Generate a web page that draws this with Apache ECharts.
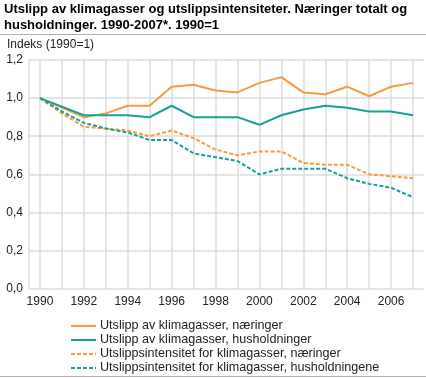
<!DOCTYPE html>
<html>
<head>
<meta charset="utf-8">
<script src="https://cdn.jsdelivr.net/npm/echarts@6/dist/echarts.min.js"></script>
<style>html,body{margin:0;padding:0;background:#fff}#c{width:426px;height:379px}</style>
</head>
<body>
<div id="c"></div>
<script>
var years = [1990,1991,1992,1993,1994,1995,1996,1997,1998,1999,2000,2001,2002,2003,2004,2005,2006,2007];
var naeringerUtslipp = [1.00,0.95,0.90,0.92,0.96,0.96,1.06,1.07,1.04,1.03,1.08,1.11,1.03,1.02,1.06,1.01,1.06,1.08];
var husholdUtslipp   = [1.00,0.955,0.91,0.91,0.91,0.90,0.96,0.90,0.90,0.90,0.86,0.91,0.94,0.96,0.95,0.93,0.93,0.91];
var naeringerIntens  = [1.00,0.92,0.85,0.84,0.83,0.80,0.83,0.79,0.73,0.70,0.72,0.72,0.66,0.65,0.65,0.60,0.59,0.58];
var husholdIntens    = [1.00,0.93,0.87,0.84,0.82,0.78,0.78,0.71,0.69,0.67,0.60,0.63,0.63,0.63,0.58,0.55,0.53,0.48];
var xLabelYears = [1990,1992,1994,1996,1998,2000,2002,2004,2006];
var names = [
  'Utslipp av klimagasser, næringer',
  'Utslipp av klimagasser, husholdninger',
  'Utslippsintensitet for klimagasser, næringer',
  'Utslippsintensitet for klimagasser, husholdningene'
];
var orange = '#f79a40';
var teal = '#19a099';
function pairs(arr){ return years.map(function(y,i){ return [y, arr[i]]; }); }
function mk(name, arr, color, dashed){
  return {
    name: name, type: 'line', data: pairs(arr), symbol: 'none', animation: false,
    lineStyle: { color: color, width: 2, type: dashed ? [4,2] : 'solid' },
    itemStyle: { color: color }
  };
}
var chart = echarts.init(document.getElementById('c'), null, {renderer:'canvas'});
var font = '"Liberation Sans", Arial, sans-serif';
chart.setOption({
  animation: false,
  textStyle: { fontFamily: font },
  title: {
    text: 'Utslipp av klimagasser og utslippsintensiteter. Næringer totalt og\nhusholdninger. 1990-2007*. 1990=1',
    left: 4, top: 1, padding: 0,
    textStyle: { fontFamily: font, fontSize: 13, fontWeight: 'bold', color: '#000', lineHeight: 16 }
  },
  graphic: [
    { type: 'line', shape: { x1: 0, y1: 34.5, x2: 426, y2: 34.5 }, style: { stroke: '#b0b0b0', lineWidth: 1 } },
    { type: 'line', shape: { x1: 0, y1: 376.5, x2: 426, y2: 376.5 }, style: { stroke: '#b0b0b0', lineWidth: 1 } },
    { type: 'text', left: 7, top: 39, style: { text: 'Indeks (1990=1)', font: '12px ' + font, fill: '#222' } }
  ],
  grid: { left: 29, right: 2, top: 60, bottom: 90.3, containLabel: false },
  xAxis: {
    type: 'value', min: 1989.5, max: 2007.5,
    axisLine: { show: false },
    axisTick: { show: false, customValues: years },
    axisLabel: { customValues: xLabelYears, color: '#222', fontSize: 12, fontFamily: font, margin: 7, formatter: function(v){ return String(v); } },
    splitLine: { show: true, lineStyle: { color: '#dcdcdc', width: 1.5 } }
  },
  yAxis: {
    type: 'value', min: 0, max: 1.2, interval: 0.2,
    axisLine: { show: true, lineStyle: { color: '#dcdcdc', width: 1.5 } },
    axisTick: { show: false },
    axisLabel: { color: '#222', fontSize: 12, fontFamily: font, margin: 6, formatter: function(v){ return v.toFixed(1).replace('.', ','); } },
    splitLine: { show: true, lineStyle: { color: '#dcdcdc', width: 1.5 } }
  },
  legend: {
    orient: 'vertical', left: 70, top: 319, padding: 0, itemWidth: 25, itemHeight: 8, itemGap: 0,
    height: 60,
    data: names,
    itemStyle: { opacity: 0 },
    textStyle: { fontFamily: font, fontSize: 12.6, color: '#222', lineHeight: 14, padding: [0,0,0,-1] }
  },
  series: [
    mk(names[0], naeringerUtslipp, orange, false),
    mk(names[1], husholdUtslipp, teal, false),
    mk(names[2], naeringerIntens, orange, true),
    mk(names[3], husholdIntens, teal, true)
  ]
});
</script>
</body>
</html>
